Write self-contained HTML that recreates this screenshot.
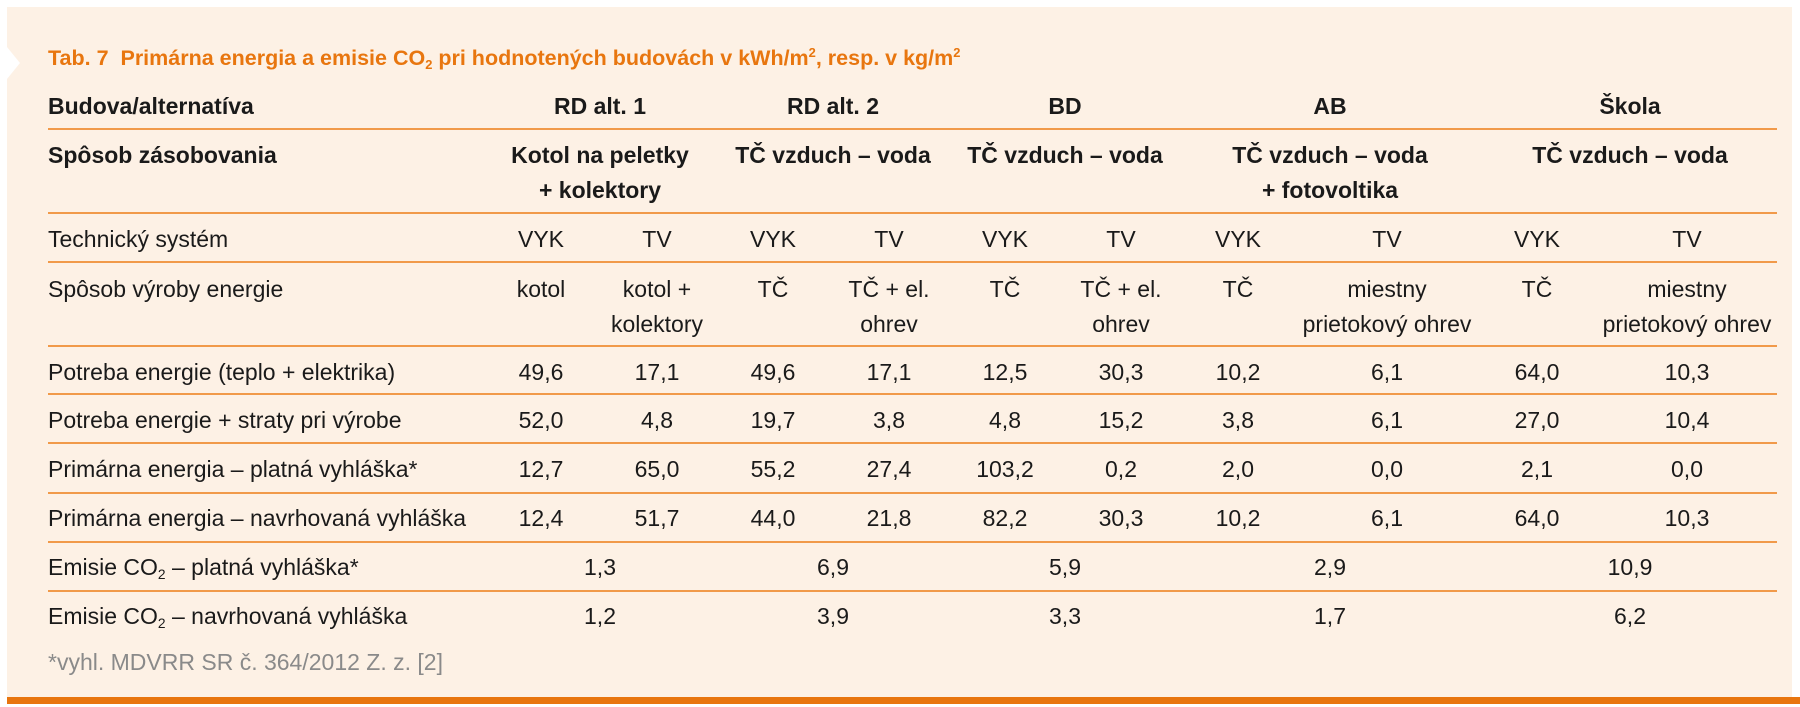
<!DOCTYPE html>
<html><head><meta charset="utf-8">
<style>
html,body{margin:0;padding:0;background:#fff;}
#root{position:relative;width:1800px;height:707px;overflow:hidden;background:#fff;font-family:"Liberation Sans",sans-serif;color:#1a1a1a;}
.panel{position:absolute;left:7px;top:7px;width:1785px;height:690px;background:#fdf1e5;}
.notch{position:absolute;left:7px;top:47px;width:0;height:0;border-top:16px solid transparent;border-bottom:16px solid transparent;border-left:13px solid #fff;}
.bar{position:absolute;left:7px;top:697px;width:1793px;height:7px;background:#e8750e;}
.hl{position:absolute;left:48px;width:1729px;height:2px;background:#f19a4a;}
.t{position:absolute;font-size:23px;line-height:26px;height:26px;white-space:nowrap;}
.c{transform:translateX(-50%);}
.b{font-weight:bold;}
.title{position:absolute;left:48px;top:46px;font-size:21.5px;font-weight:bold;color:#e8760f;white-space:nowrap;}
.foot{color:#8a8a8a;}
sub{font-size:60%;vertical-align:-4px;line-height:0;}
sup{font-size:60%;vertical-align:8px;line-height:0;}
</style></head><body>
<div id="root">
<div class="panel"></div>
<div class="notch"></div>
<div class="bar"></div>
<div class="title">Tab. 7&nbsp; Primárna energia a emisie CO<sub>2</sub> pri hodnotených budovách v kWh/m<sup>2</sup>, resp. v kg/m<sup>2</sup></div>
<div id="grid"></div>
</div>
<script>
const lineYs=[129,213,262,346,394,443,493,542,591];
const groupX=[600,833,1065,1330,1630];
const colX=[541,657,773,889,1005,1121,1238,1387,1537,1687];
const groups=["RD alt. 1","RD alt. 2","BD","AB","Škola"];
const supply=[["Kotol na peletky","+ kolektory"],["TČ vzduch – voda"],["TČ vzduch – voda"],["TČ vzduch – voda","+ fotovoltika"],["TČ vzduch – voda"]];
const tech=["VYK","TV","VYK","TV","VYK","TV","VYK","TV","VYK","TV"];
const prod=[["kotol"],["kotol +","kolektory"],["TČ"],["TČ + el.","ohrev"],["TČ"],["TČ + el.","ohrev"],["TČ"],["miestny","prietokový ohrev"],["TČ"],["miestny","prietokový ohrev"]];
const rowLabels=["Potreba energie (teplo + elektrika)","Potreba energie + straty pri výrobe","Primárna energia – platná vyhláška*","Primárna energia – navrhovaná vyhláška"];
const rowVals=[
["49,6","17,1","49,6","17,1","12,5","30,3","10,2","6,1","64,0","10,3"],
["52,0","4,8","19,7","3,8","4,8","15,2","3,8","6,1","27,0","10,4"],
["12,7","65,0","55,2","27,4","103,2","0,2","2,0","0,0","2,1","0,0"],
["12,4","51,7","44,0","21,8","82,2","30,3","10,2","6,1","64,0","10,3"]];
const emisLabels=["Emisie CO<sub>2</sub> – platná vyhláška*","Emisie CO<sub>2</sub> – navrhovaná vyhláška"];
const emisVals=[["1,3","6,9","5,9","2,9","10,9"],["1,2","3,9","3,3","1,7","6,2"]];
const rowY=[372,420,469,518];
const emisY=[567,616];
const root=document.getElementById('root');
function txt(html,x,y,cls,name){
  const d=document.createElement('div');
  d.className='t '+(cls||'');
  d.innerHTML=html;
  d.style.left=x+'px';d.style.top=(y-13)+'px';
  
  
  root.appendChild(d);return d;
}
lineYs.forEach((y,i)=>{
  const l=document.createElement('div');l.className='hl';l.style.top=(y-1)+'px';
  
  
  root.appendChild(l);
});
txt('Budova/alternatíva',48,106,'b','header-building-label');
txt('Spôsob zásobovania',48,155,'b','header-supply-label');
txt('Technický systém',48,239,'','tech-system-label');
txt('Spôsob výroby energie',48,289,'','production-label');
groups.forEach((g,i)=>txt(g,groupX[i],106,'b c','building-header'));
supply.forEach((s,i)=>s.forEach((ln,j)=>txt(ln,groupX[i],155+j*35,'b c','supply-cell')));
tech.forEach((t,i)=>txt(t,colX[i],239,'c','tech-cell'));
prod.forEach((p,i)=>p.forEach((ln,j)=>txt(ln,colX[i],289+j*35,'c','production-cell')));
rowLabels.forEach((lab,r)=>{
  txt(lab,48,rowY[r],'','row-label');
  rowVals[r].forEach((v,i)=>txt(v,colX[i],rowY[r],'c','value-cell'));
});
emisLabels.forEach((lab,r)=>{
  txt(lab,48,emisY[r],'','emission-label');
  emisVals[r].forEach((v,i)=>txt(v,groupX[i],emisY[r],'c','emission-cell'));
});
txt('*vyhl. MDVRR SR č. 364/2012 Z. z. [2]',48,662,'foot','footnote');
</script>
</body></html>
